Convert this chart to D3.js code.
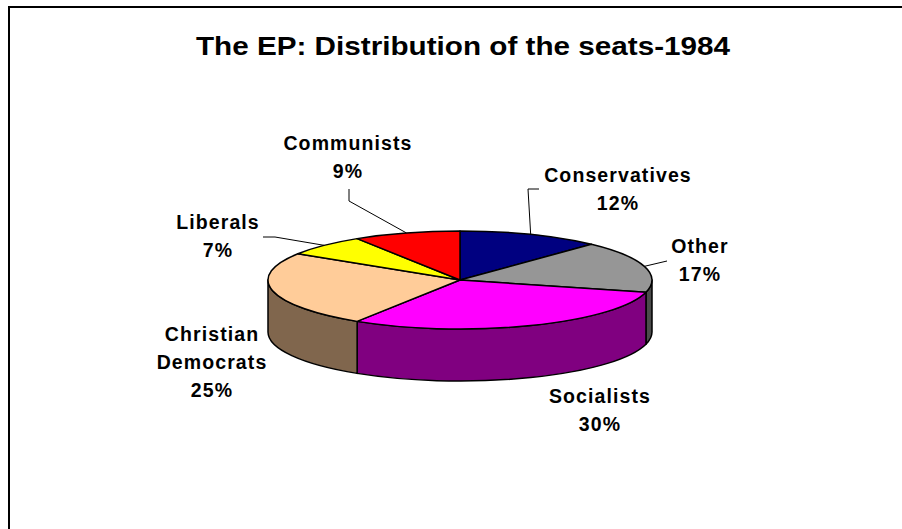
<!DOCTYPE html>
<html>
<head>
<meta charset="utf-8">
<script src="https://cdn.jsdelivr.net/npm/d3@7"></script>
<style>
  body { margin: 0; background: #fff; }
  svg { display: block; }
  text { font-family: "Liberation Sans", Arial, sans-serif; font-weight: bold; fill: #000; }
</style>
</head>
<body>
<div id="chart"></div>
<script>
// data (Excel-style 3D pie, clockwise from 12 o'clock)
const parties = ["Conservatives", "Other", "Socialists", "Christian Democrats", "Liberals", "Communists"];
const shares = [12, 17, 30, 25, 7, 9];
const title = "The EP: Distribution of the seats-1984";

// styles / layout kept apart from the data
const colors = ["#000080", "#969696", "#ff00ff", "#ffcc99", "#ffff00", "#ff0000"];
const labelPos = [
  { x: 618, y: 182, elbow: [[539, 189], [528, 189]] },
  { x: 700, y: 253, elbow: [[667, 261]] },
  { x: 600, y: 403, elbow: null },
  { x: 212, y: 341, elbow: null },
  { x: 218, y: 229, elbow: [[263, 237], [275, 237]] },
  { x: 348, y: 150, elbow: [[349, 189], [349, 201]] }
];

const width = 902;
const height = 529;
const cx = 460, cy = 280;   // centre of the top face
const rx = 192, ry = 49;    // ellipse radii
const depth = 52;           // thickness of the pie

const svg = d3.select("#chart")
  .append("svg")
  .attr("width", width)
  .attr("height", height);

// chart frame (clipped at right/bottom like the source)
svg.append("rect")
  .attr("x", 9).attr("y", 7)
  .attr("width", 1000).attr("height", 1000)
  .attr("fill", "none")
  .attr("stroke", "#000")
  .attr("stroke-width", 2);

svg.append("text")
  .attr("transform", `translate(463, 55) scale(1.12, 1)`)
  .attr("text-anchor", "middle")
  .style("font-size", "26.5px")
  .text(title);

const color = d3.scaleOrdinal(parties, colors);
const sideColor = (name) => {
  const c = d3.rgb(color(name));
  return d3.rgb(c.r / 2, c.g / 2, c.b / 2).formatHex();
};

const pie = d3.pie().sort(null).value((d, i) => shares[i]);
const arcs = pie(parties);

const pt = (a, dy = 0) => [cx + rx * Math.sin(a), cy - ry * Math.cos(a) + dy];

// side walls: only the front half (angles pi/2 .. 3pi/2) is visible
const sides = svg.append("g").attr("class", "sides");
arcs.forEach((d) => {
  const a0 = Math.max(d.startAngle, Math.PI / 2);
  const a1 = Math.min(d.endAngle, 3 * Math.PI / 2);
  if (a1 <= a0) return;
  const [x0, y0] = pt(a0);
  const [x1, y1] = pt(a1);
  const p = `M${x0},${y0} A${rx},${ry} 0 0 1 ${x1},${y1} ` +
            `L${x1},${y1 + depth} A${rx},${ry} 0 0 0 ${x0},${y0 + depth} Z`;
  sides.append("path")
    .attr("d", p)
    .attr("fill", sideColor(d.data))
    .attr("stroke", "#000")
    .attr("stroke-width", 1.5)
    .attr("stroke-linejoin", "round");
});

// top faces: a circular arc squashed into the ellipse
const arc = d3.arc().innerRadius(0).outerRadius(rx);
svg.append("g")
  .attr("transform", `translate(${cx},${cy}) scale(1, ${ry / rx})`)
  .selectAll("path")
  .data(arcs)
  .join("path")
  .attr("d", arc)
  .attr("fill", (d) => color(d.data))
  .attr("stroke", "#000")
  .attr("stroke-width", 1.5)
  .attr("stroke-linejoin", "round")
  .attr("vector-effect", "non-scaling-stroke");

// leader lines from label to the rim
const line = d3.line();
arcs.forEach((d, i) => {
  const lp = labelPos[i];
  if (!lp.elbow) return;
  const mid = (d.startAngle + d.endAngle) / 2;
  svg.append("path")
    .attr("d", line([...lp.elbow, pt(mid)]))
    .attr("fill", "none")
    .attr("stroke", "#000")
    .attr("stroke-width", 1);
});

// labels: name (split on spaces for long ones) + percent
const fmt = d3.format(".0%");
arcs.forEach((d, i) => {
  const lp = labelPos[i];
  const words = d.data.includes(" ") ? d.data.split(" ") : [d.data];
  const lines = [...words, fmt(shares[i] / d3.sum(shares))];
  const t = svg.append("text")
    .attr("text-anchor", "middle")
    .style("font-size", "19.5px")
    .style("letter-spacing", "1.1px");
  lines.forEach((s, k) => {
    t.append("tspan")
      .attr("x", lp.x)
      .attr("y", lp.y + k * 28)
      .text(s);
  });
});
</script>
</body>
</html>
